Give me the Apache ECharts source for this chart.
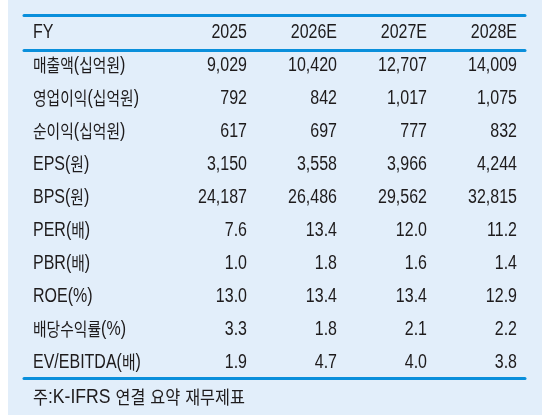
<!DOCTYPE html>
<html><head><meta charset="utf-8">
<script src="https://cdn.jsdelivr.net/npm/echarts@6/dist/echarts.min.js"></script>
<style>html,body{margin:0;padding:0;background:#fff}#c{width:550px;height:415px}</style>
</head><body><div id="c"></div>
<script>
const headerLabel = 'FY';
const rowLabels = ['매출액(십억원)','영업이익(십억원)','순이익(십억원)','EPS(원)','BPS(원)','PER(배)','PBR(배)','ROE(%)','배당수익률(%)','EV/EBITDA(배)'];
const years = ['2025','2026E','2027E','2028E'];
const v2025  = [9029, 792, 617, 3150, 24187, 7.6, 1.0, 13.0, 3.3, 1.9];
const v2026E = [10420, 842, 697, 3558, 26486, 13.4, 1.8, 13.4, 1.8, 4.7];
const v2027E = [12707, 1017, 777, 3966, 29562, 12.0, 1.6, 13.4, 2.1, 4.0];
const v2028E = [14009, 1075, 832, 4244, 32815, 11.2, 1.4, 12.9, 2.2, 3.8];
const decimals = [0,0,0,0,0,1,1,1,1,1];
const footnote = '주:K-IFRS 연결 요약 재무제표';

const columns = [v2025, v2026E, v2027E, v2028E];
const allRows = [headerLabel].concat(rowLabels);
const LATIN = "'Liberation Sans',sans-serif";
const KOR = "'Noto Sans CJK KR',sans-serif";
const TXT = '#1e1b1c';
const BLUE = '#0a8fdb';
const FS = 20, SX = 0.8;
const RICH = {h: {fontSize: 18.5, fontFamily: KOR, fill: TXT, verticalAlign: 'middle'}};

function fmt(v, d) {
  return d === 0 ? v.toLocaleString('en-US') : v.toFixed(d);
}
function richify(s) {
  return String(s).replace(/[\uAC00-\uD7A3]+/g, m => '{h|' + m + '}');
}
function textStyle(s, align) {
  return {text: richify(s), rich: RICH, fill: TXT, fontSize: FS, fontFamily: LATIN,
    align: align, verticalAlign: 'middle'};
}
// custom text series: each datum = [x, rowCategory, text]
function textSeries(xAxisIndex, yAxisIndex, data, align, dx) {
  return {
    type: 'custom', xAxisIndex: xAxisIndex, yAxisIndex: yAxisIndex, silent: true,
    data: data,
    clip: false,
    renderItem: function (params, api) {
      const d = data[params.dataIndex];
      const pt = api.coord([d[0], allRows.indexOf(d[1])]);
      return {
        type: 'group', x: pt[0] + (dx || 0), y: pt[1], scaleX: SX, scaleY: 1,
        children: [{type: 'text', x: 0, y: 0, style: textStyle(d[2], align)}]
      };
    }
  };
}

const series = [];
series.push(textSeries(0, 0, allRows.map(r => [0, r, r]), 'left', 9));
series.push(textSeries(3, 1, years.map((y, i) => [i + 1, headerLabel, y]), 'right'));
columns.forEach((col, i) => {
  series.push(textSeries(3, 1, col.map((v, r) => [i + 1, rowLabels[r], fmt(v, decimals[r])]), 'right'));
});

const chart = echarts.init(document.getElementById('c'));
chart.setOption({
  animation: false,
  backgroundColor: '#ffffff',
  graphic: [
    {type: 'rect', shape: {x: 8, y: 0, width: 534, height: 415}, style: {fill: '#e2eefa'}, z: -10},
    {type: 'group', x: 33, y: 397, scaleX: 0.88, children: [{type: 'text', x: 0, y: 0, style: textStyle(footnote, 'left')}]}
  ],
  grid: [
    {left: 24, right: 25, top: 15.5, height: 363},
    {left: 157, right: 33, top: 15.5, height: 363},
    {left: 24, right: 25, top: 15.5, height: 34.5}
  ],
  xAxis: [
    {gridIndex: 0, type: 'value', min: 0, max: 1, position: 'top', axisLine: {show: true, lineStyle: {color: BLUE, width: 3}}, axisTick: {show: false}, axisLabel: {show: false}, splitLine: {show: false}},
    {gridIndex: 0, type: 'value', min: 0, max: 1, position: 'bottom', axisLine: {show: true, lineStyle: {color: BLUE, width: 3}}, axisTick: {show: false}, axisLabel: {show: false}, splitLine: {show: false}},
    {gridIndex: 2, type: 'value', min: 0, max: 1, position: 'bottom', axisLine: {show: true, lineStyle: {color: BLUE, width: 3}}, axisTick: {show: false}, axisLabel: {show: false}, splitLine: {show: false}},
    {gridIndex: 1, type: 'value', min: 0, max: 4, show: false}
  ],
  yAxis: [
    {gridIndex: 0, type: 'category', data: allRows, inverse: true, show: false},
    {gridIndex: 1, type: 'category', data: allRows, inverse: true, show: false},
    {gridIndex: 2, type: 'value', show: false}
  ],
  series: series
});
</script></body></html>
